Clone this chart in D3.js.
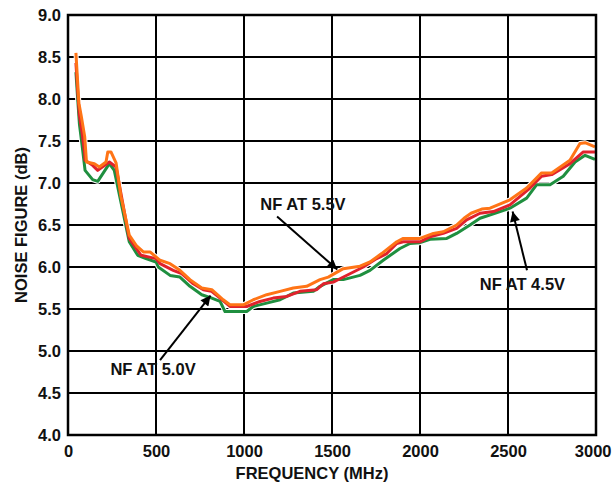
<!DOCTYPE html>
<html><head><meta charset="utf-8">
<script src="https://cdn.jsdelivr.net/npm/d3@7"></script>
<style>body{margin:0;background:#fff}svg{display:block}text{font-family:"Liberation Sans",Arial,sans-serif;font-weight:bold;fill:#111}</style>
</head><body><svg id="c" width="613" height="485"></svg>
<script>
const xTicks=[0,500,1000,1500,2000,2500,3000];
const yTicks=[4.0,4.5,5.0,5.5,6.0,6.5,7.0,7.5,8.0,8.5,9.0];
const nf45=[[45,8.32],[55,8.0],[65,7.7],[80,7.45],[97,7.15],[140,7.04],[169,7.02],[235,7.23],[263,7.15],[348,6.30],[396,6.14],[443,6.10],[500,6.06],[513,6.00],[580,5.90],[636,5.88],[693,5.77],[760,5.67],[817,5.63],[864,5.59],[892,5.47],[1015,5.47],[1053,5.53],[1129,5.57],[1205,5.61],[1280,5.69],[1394,5.71],[1432,5.77],[1507,5.85],[1564,5.85],[1659,5.90],[1716,5.96],[1791,6.08],[1886,6.22],[1943,6.28],[2000,6.29],[2057,6.33],[2152,6.34],[2208,6.40],[2284,6.50],[2341,6.58],[2455,6.66],[2511,6.70],[2606,6.82],[2663,6.98],[2739,6.98],[2814,7.08],[2881,7.25],[2938,7.33],[2994,7.28]];
const nf50=[[45,8.43],[55,8.1],[65,7.8],[80,7.6],[95,7.35],[97,7.27],[140,7.21],[169,7.15],[235,7.25],[273,7.19],[348,6.34],[415,6.14],[500,6.10],[523,6.04],[598,5.96],[646,5.92],[712,5.80],[769,5.73],[816,5.71],[864,5.63],[920,5.53],[1015,5.53],[1091,5.59],[1166,5.63],[1243,5.65],[1318,5.71],[1413,5.73],[1451,5.80],[1507,5.82],[1545,5.86],[1602,5.92],[1678,6.00],[1754,6.10],[1811,6.16],[1868,6.28],[1905,6.30],[2000,6.30],[2057,6.36],[2132,6.40],[2208,6.46],[2265,6.56],[2341,6.64],[2417,6.66],[2511,6.74],[2625,6.94],[2691,7.08],[2748,7.10],[2852,7.23],[2928,7.37],[2994,7.37]];
const nf55=[[45,8.55],[52,8.3],[62,7.95],[75,7.8],[95,7.55],[100,7.4],[105,7.25],[150,7.23],[178,7.19],[216,7.25],[226,7.37],[244,7.37],[273,7.24],[301,6.84],[348,6.38],[390,6.25],[428,6.18],[466,6.18],[523,6.08],[580,6.04],[636,5.96],[693,5.85],[760,5.75],[817,5.73],[882,5.61],[920,5.55],[996,5.55],[1053,5.61],[1129,5.67],[1205,5.71],[1280,5.75],[1356,5.77],[1432,5.85],[1479,5.88],[1564,5.98],[1659,6.01],[1716,6.06],[1782,6.16],[1868,6.30],[1905,6.34],[2000,6.34],[2076,6.40],[2132,6.42],[2208,6.50],[2250,6.58],[2290,6.64],[2351,6.69],[2398,6.70],[2511,6.80],[2606,6.94],[2691,7.12],[2748,7.12],[2852,7.27],[2909,7.47],[2938,7.48],[2994,7.43]];
const seriesNames=["NF AT 4.5V","NF AT 5.0V","NF AT 5.5V"];
const seriesColors=["#1f8f3f","#e0222c","#ff7416"];
// annotations: [label, textX(MHz), textBaseline(dB), arrowFrom(MHz,dB), arrowTo(MHz,dB)]
const annos=[
 ["NF AT 5.5V",1335,6.68,[1188,6.60],[1530,5.97]],
 ["NF AT 5.0V",483,4.71,[523,4.89],[810,5.66]],
 ["NF AT 4.5V",2582,5.73,[2608,5.96],[2526,6.66]]
];

const svg=d3.select("#c");
const m={l:68,r:596,t:15,b:435};
const x=d3.scaleLinear().domain([0,3000]).range([m.l,m.r]);
const y=d3.scaleLinear().domain([4,9]).range([m.b,m.t]);
const FS=16.5;

// grid
svg.append("g").selectAll("line").data(xTicks.slice(1,-1)).join("line")
 .attr("x1",d=>x(d)).attr("x2",d=>x(d)).attr("y1",m.t).attr("y2",m.b).attr("stroke","#000").attr("stroke-width",2);
svg.append("g").selectAll("line").data(yTicks.slice(1,-1)).join("line")
 .attr("y1",d=>y(d)).attr("y2",d=>y(d)).attr("x1",m.l).attr("x2",m.r).attr("stroke","#000").attr("stroke-width",2);

// axes with d3
const xa=svg.append("g").attr("transform",`translate(0,${m.b})`).call(d3.axisBottom(x).tickValues(xTicks).tickSize(0).tickPadding(10).tickFormat(d3.format("d")));
const ya=svg.append("g").attr("transform",`translate(${m.l},0)`).call(d3.axisLeft(y).tickValues(yTicks).tickSize(0).tickPadding(7).tickFormat(d3.format(".1f")));
[xa,ya].forEach(g=>{g.select(".domain").remove();g.selectAll("text").attr("font-size",FS).attr("font-family","Liberation Sans, Arial, sans-serif").attr("font-weight","bold").attr("fill","#111");});
// keep last x label inside the page
xa.selectAll(".tick").filter(d=>d===3000).select("text").attr("text-anchor","end").attr("x",15);

// lines
const line=d3.line().x(d=>x(d[0])).y(d=>y(d[1]));
[nf45,nf50,nf55].forEach((s,i)=>{
 svg.append("path").datum(s).attr("d",line).attr("fill","none").attr("stroke","#fff").attr("stroke-width",5).attr("stroke-linejoin","round");
});
[nf45,nf50,nf55].forEach((s,i)=>{
 svg.append("path").datum(s).attr("d",line).attr("fill","none").attr("stroke",seriesColors[i]).attr("stroke-width",3).attr("stroke-linejoin","round");
});

// frame
svg.append("rect").attr("x",m.l).attr("y",m.t).attr("width",m.r-m.l).attr("height",m.b-m.t).attr("fill","none").attr("stroke","#000").attr("stroke-width",2.5);

// annotations
const defs=svg.append("defs");
defs.append("marker").attr("id","ah").attr("viewBox","0 0 10 10").attr("refX",10).attr("refY",5)
 .attr("markerWidth",15).attr("markerHeight",10).attr("markerUnits","userSpaceOnUse").attr("orient","auto")
 .append("path").attr("d","M0,0L10,5L0,10Z").attr("fill","#000");
annos.forEach(a=>{
 svg.append("line").attr("x1",x(a[3][0])).attr("y1",y(a[3][1])).attr("x2",x(a[4][0])).attr("y2",y(a[4][1]))
  .attr("stroke","#000").attr("stroke-width",2).attr("marker-end","url(#ah)");
 svg.append("text").attr("x",x(a[1])).attr("y",y(a[2])).attr("text-anchor","middle").attr("font-size",FS).text(a[0]);
});

// titles
svg.append("text").attr("x",312).attr("y",479).attr("text-anchor","middle").attr("font-size",FS).text("FREQUENCY (MHz)");
svg.append("text").attr("transform",`translate(27,${(m.t+m.b)/2}) rotate(-90)`).attr("text-anchor","middle").attr("font-size",FS).text("NOISE FIGURE (dB)");
</script></body></html>
